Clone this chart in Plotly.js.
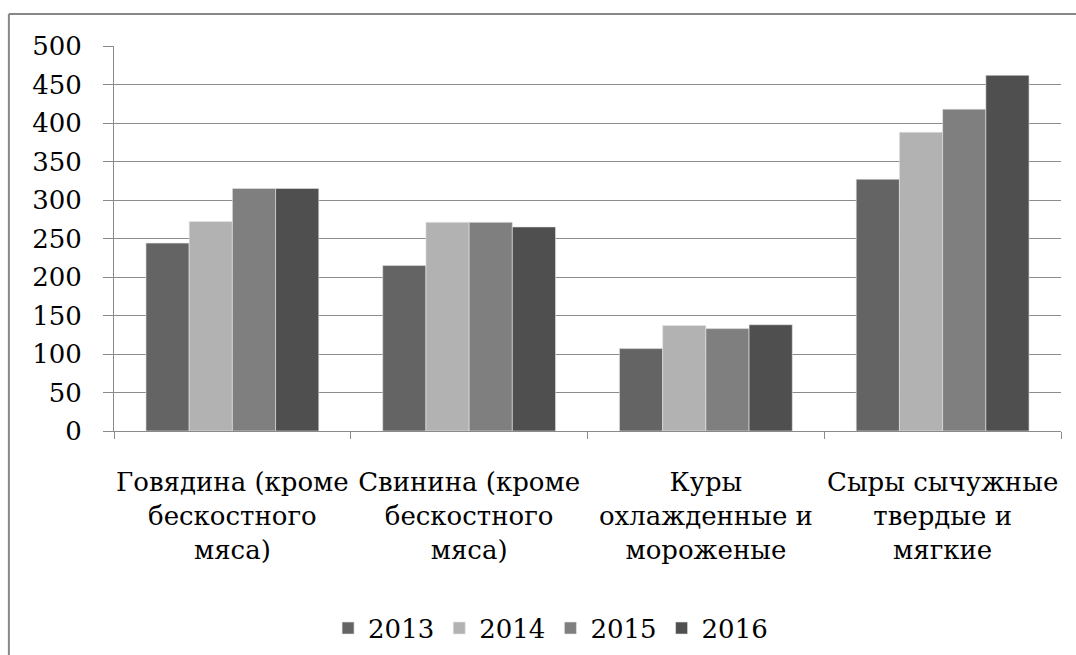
<!DOCTYPE html>
<html>
<head>
<meta charset="utf-8">
<script src="https://cdn.plot.ly/plotly-3.0.1.min.js"></script>
<style>
html,body{margin:0;padding:0;background:#fff;}
#chart{width:1076px;height:655px;}
</style>
</head>
<body>
<div id="chart"></div>
<script>
const categories = [
  "Говядина (кроме<br>бескостного<br>мяса)",
  "Свинина (кроме<br>бескостного<br>мяса)",
  "Куры<br>охлажденные и<br>мороженые",
  "Сыры сычужные<br>твердые и<br>мягкие"
];
const years = ["2013", "2014", "2015", "2016"];
const v2013 = [244, 215, 107, 327];
const v2014 = [272, 271, 137, 388];
const v2015 = [315, 271, 133, 418];
const v2016 = [315, 265, 138, 462];
const yTicks = [0, 50, 100, 150, 200, 250, 300, 350, 400, 450, 500];

const seriesValues = [v2013, v2014, v2015, v2016];
const colors = ["#646464", "#b2b2b2", "#7f7f7f", "#4f4f4f"];

const traces = years.map((y, i) => ({
  type: "bar",
  name: y,
  x: categories,
  y: seriesValues[i],
  marker: {color: colors[i], line: {color: "rgba(230,230,230,0.6)", width: 1}},
  hoverinfo: "none"
}));
traces.push({
  type: "scatter", x: [-0.5, 3.5], y: [0, 0], xaxis: "x2", yaxis: "y",
  mode: "none", showlegend: false, hoverinfo: "none"
});

const font = {family: "DejaVu Serif", size: 26, color: "#000"};

const layout = {
  width: 1076, height: 655,
  margin: {l: 114, r: 15, t: 46, b: 224, autoexpand: false},
  paper_bgcolor: "#fff", plot_bgcolor: "#fff",
  font: font,
  barmode: "group", bargap: 0.27, bargroupgap: 0,
  showlegend: true,
  legend: {
    orientation: "h", x: 0.461, xanchor: "center", y: -0.512, yanchor: "middle",
    font: font, itemwidth: 30, traceorder: "normal"
  },
  xaxis: {
    type: "category", showgrid: false, zeroline: false, automargin: false,
    showline: true, linecolor: "#8a8a8a", linewidth: 1,
    ticks: "", tickfont: font, ticklabelstandoff: 28
  },
  xaxis2: {
    overlaying: "x", range: [-0.5, 3.5], side: "bottom", automargin: false,
    tickvals: [-0.5, 0.5, 1.5, 2.5, 3.5], ticks: "outside", ticklen: 7,
    tickcolor: "#8a8a8a", showticklabels: false, showgrid: false, zeroline: false,
    showline: false
  },
  yaxis: {
    range: [0, 500], tickvals: yTicks, ticktext: yTicks.map(String), automargin: false,
    showgrid: true, gridcolor: "#8c8c8c", gridwidth: 1,
    showline: true, linecolor: "#8a8a8a", linewidth: 1,
    ticks: "outside", ticklen: 10, tickcolor: "#8a8a8a",
    zeroline: false, tickfont: font, ticklabelstandoff: 16
  },
  shapes: [
    {type: "line", xref: "paper", yref: "paper", x0: -0.111, x1: 1.02, y0: 1.083, y1: 1.083,
     line: {color: "#878787", width: 2}},
    {type: "line", xref: "paper", yref: "paper", x0: -0.111, x1: -0.111, y0: 1.083, y1: -0.6,
     line: {color: "#878787", width: 2}}
  ]
};

Plotly.newPlot("chart", traces, layout, {staticPlot: true, displayModeBar: false});
</script>
</body>
</html>
